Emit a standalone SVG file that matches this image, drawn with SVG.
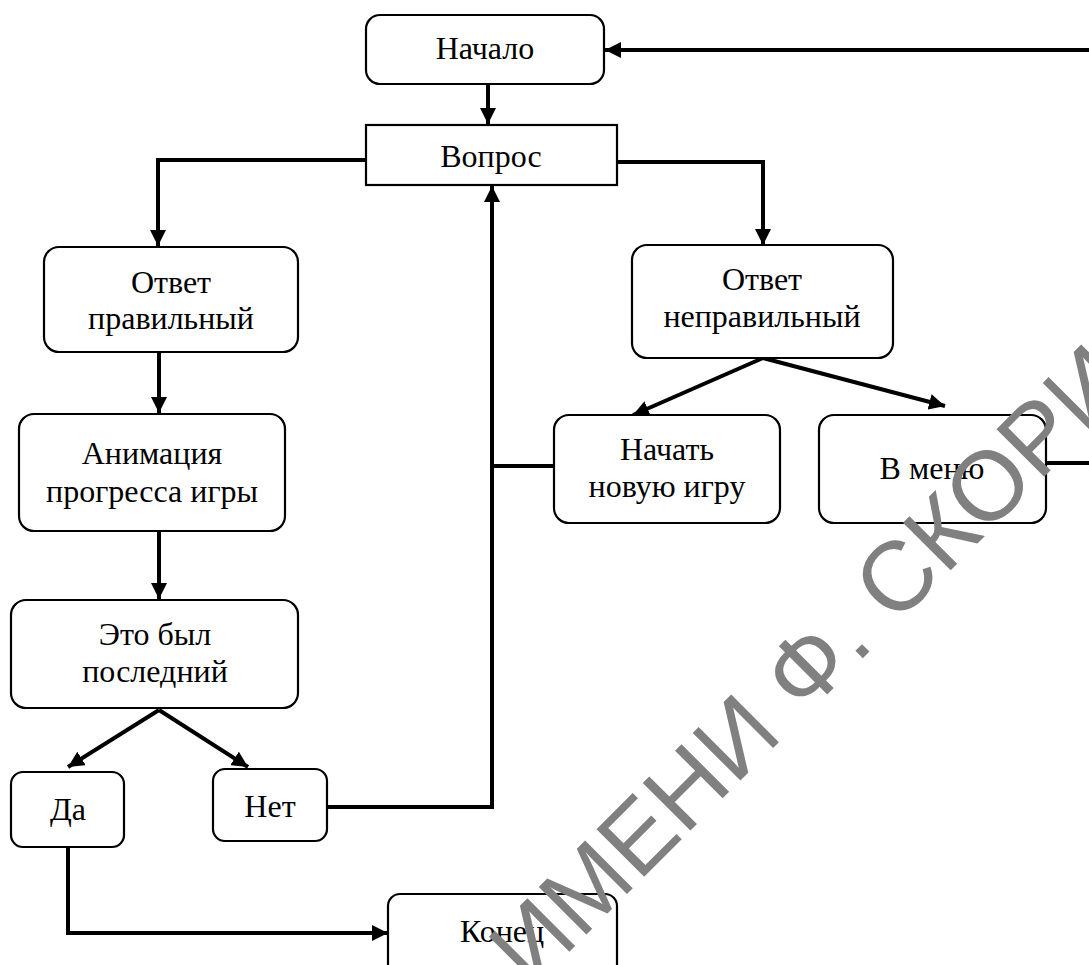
<svg xmlns="http://www.w3.org/2000/svg" width="1089" height="965" viewBox="0 0 1089 965">
<style>
.box{fill:#fff;stroke:#000;stroke-width:2.2}
.t{font-family:"Liberation Serif","Times New Roman",serif;font-size:32px;fill:#000;text-anchor:middle}
.c{fill:none;stroke:#000;stroke-width:4;stroke-linejoin:miter}
.wm{font-family:"Liberation Sans",Arial,sans-serif;font-size:98px;fill:#808080}
</style>
<defs>
<marker id="ah" markerUnits="userSpaceOnUse" markerWidth="16" markerHeight="16" refX="16" refY="8" orient="auto">
<path d="M0,0 L16,8 L0,16 z" fill="#000"/>
</marker>
</defs>
<rect width="1089" height="965" fill="#fff"/>
<g id="connectors">
<path class="c" d="M488,84 L488,124" marker-end="url(#ah)"/>
<path class="c" d="M366,160 L158,160 L158,246" marker-end="url(#ah)"/>
<path class="c" d="M617,162 L763,162 L763,245" marker-end="url(#ah)"/>
<path class="c" d="M159,352 L159,413" marker-end="url(#ah)"/>
<path class="c" d="M159,531 L159,599" marker-end="url(#ah)"/>
<path class="c" d="M159,710 L68,767" marker-end="url(#ah)"/>
<path class="c" d="M159,710 L248,767" marker-end="url(#ah)"/>
<path class="c" d="M327,807 L492,807 L492,186" marker-end="url(#ah)"/>
<path class="c" d="M554,466 L492,466"/>
<path class="c" d="M763,358 L633,415" marker-end="url(#ah)"/>
<path class="c" d="M763,358 L945,406" marker-end="url(#ah)"/>
<path class="c" d="M1046,463 L1095,463 L1095,50 L605,50" marker-end="url(#ah)"/>
<path class="c" d="M68,847 L68,933 L388,933" marker-end="url(#ah)"/>
</g>
<g id="start"><rect class="box" x="366" y="15" width="238" height="69" rx="14"/><text class="t" x="485" y="59">Начало</text></g>
<g id="question"><rect class="box" x="366" y="125" width="251" height="60"/><text class="t" x="491" y="167">Вопрос</text></g>
<g id="correct"><rect class="box" x="44" y="247" width="254" height="105" rx="15"/><text class="t" x="171" y="293">Ответ</text><text class="t" x="171" y="329">правильный</text></g>
<g id="animation"><rect class="box" x="19" y="414" width="266" height="117" rx="15"/><text class="t" x="152" y="464">Анимация</text><text class="t" x="152" y="502">прогресса игры</text></g>
<g id="last"><rect class="box" x="11" y="600" width="287" height="108" rx="15"/><text class="t" x="155" y="645">Это был</text><text class="t" x="155" y="682">последний</text></g>
<g id="yes"><rect class="box" x="11" y="772" width="113" height="75" rx="12"/><text class="t" x="68" y="820">Да</text></g>
<g id="no"><rect class="box" x="213" y="769" width="114" height="72" rx="12"/><text class="t" x="270" y="817">Нет</text></g>
<g id="end"><rect class="box" x="388" y="894" width="229" height="95" rx="12"/><text class="t" x="502" y="942">Конец</text></g>
<g id="wrong"><rect class="box" x="632" y="245" width="261" height="113" rx="15"/><text class="t" x="762" y="290">Ответ</text><text class="t" x="762" y="327">неправильный</text></g>
<g id="newgame"><rect class="box" x="554" y="415" width="226" height="108" rx="15"/><text class="t" x="667" y="460">Начать</text><text class="t" x="667" y="497">новую игру</text></g>
<g id="menu"><rect class="box" x="819" y="415" width="227" height="108" rx="15"/><text class="t" x="932" y="479">В меню</text></g>
<text class="wm" x="531" y="990" transform="rotate(-45 531 990)">ИМЕНИ Ф. СКОРИ</text>
</svg>
